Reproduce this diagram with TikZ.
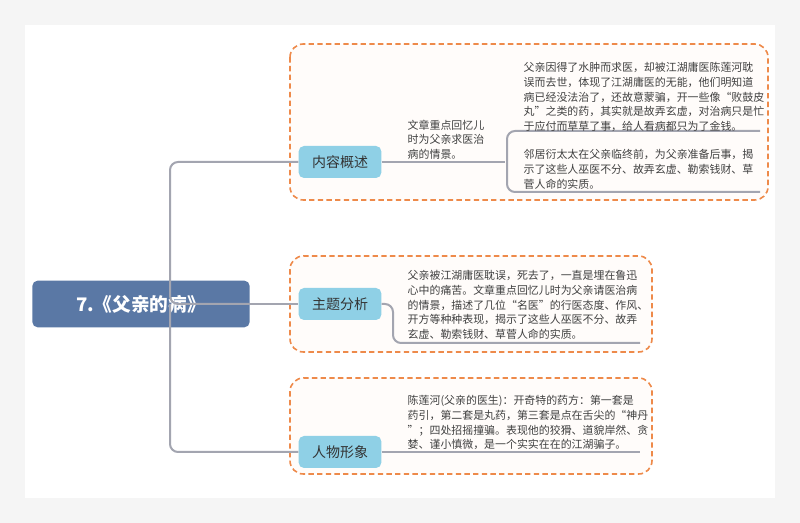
\documentclass[tikz,border=0pt]{standalone}
\usepackage{fontspec}
\setmainfont{Noto Sans CJK SC}
\begin{document}
\begin{tikzpicture}[x=0.75pt,y=-0.75pt,
  conn/.style={draw=linegray,line width=1.5pt,rounded corners=6pt},
  sub/.style={fill=subblue,rounded corners=4pt,minimum width=62pt,minimum height=24pt,font=\fontsize{10.5}{12}\selectfont,text=black!80},
  dbox/.style={draw=dorange,dashed,dash pattern=on 4pt off 2.5pt,line width=1.2pt,rounded corners=10pt,fill=boxfill},
  txt/.style={anchor=north west,align=left,font=\fontsize{8.2}{10.9}\selectfont,text=black!75}]
\definecolor{linegray}{HTML}{A3A5B0}
\definecolor{subblue}{HTML}{8FD0E6}
\definecolor{dorange}{HTML}{EE8A4A}
\definecolor{boxfill}{HTML}{FFFCFA}
\definecolor{rootblue}{HTML}{5A78A5}
\fill[gray!8] (0,0) rectangle (800,523);
\fill[white] (25,25) rectangle (775,498);
\useasboundingbox (0,0) rectangle (800,523);
\draw[dbox] (290,44) rectangle (768,200);
\draw[dbox] (290,256) rectangle (652,352);
\draw[dbox] (290,378) rectangle (652,474);
\node[fill=rootblue,rounded corners=4pt,minimum width=163pt,minimum height=35pt,text=white,font=\fontsize{14}{16}\selectfont\bfseries] (root) at (141,304) {7.《父亲的病》};
\node[sub] (n1) at (340,162) {内容概述};
\node[sub] (n2) at (340,304) {主题分析};
\node[sub] (n3) at (340,452) {人物形象};
\coordinate (c1) at (505,162);
\coordinate (t1) at (760,131);
\coordinate (b1) at (760,192);
\coordinate (e2) at (640,343);
\coordinate (e3) at (640,452);
\draw[conn] (root.east) -- (170,304) -- (170,162) -- (n1.west);
\draw[conn] (root.east) -- (n2.west);
\draw[conn] (170,304) -- (170,452) -- (n3.west);
\draw[conn] (n1.east) -- (c1);
\draw[conn] (t1) -- (507,131) -- (507,192) -- (b1);
\draw[conn] (n2.east) -- (393,304) -- (393,343) -- (e2);
\draw[conn] (n3.east) -- (e3);
\node[txt] (a1) at (403,115) {文章重点回忆儿\\时为父亲求医治\\病的情景。};
\node[txt] (a2) at (519,58) {父亲因得了水肿而求医，却被江湖庸医陈莲河耽\\误而去世，体现了江湖庸医的无能，他们明知道\\病已经没法治了，还故意蒙骗，开一些像“败鼓皮\\丸”之类的药，其实就是故弄玄虚，对治病只是忙\\于应付而草草了事，给人看病都只为了金钱。};
\node[txt] (a3) at (519,145) {邻居衍太太在父亲临终前，为父亲准备后事，揭\\示了这些人巫医不分、故弄玄虚、勒索钱财、草\\菅人命的实质。};
\node[txt] (a4) at (403,266) {父亲被江湖庸医耽误，死去了，一直是埋在鲁迅\\心中的痛苦。文章重点回忆儿时为父亲请医治病\\的情景，描述了几位“名医”的行医态度、作风、\\开方等种种表现，揭示了这些人巫医不分、故弄\\玄虚、勒索钱财、草菅人命的实质。};
\node[txt] (a5) at (403,391) {陈莲河(父亲的医生)：开奇特的药方：第一套是\\药引，第二套是丸药，第三套是点在舌尖的“神丹\\”；四处招摇撞骗。表现他的狡猾、道貌岸然、贪\\婪、谨小慎微，是一个实实在在的江湖骗子。};
\end{tikzpicture}
\end{document}
